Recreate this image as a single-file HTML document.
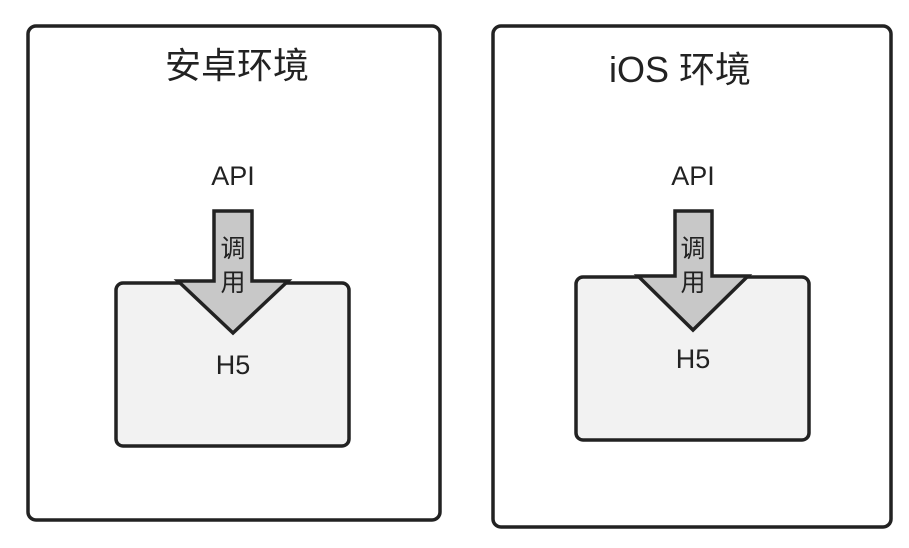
<!DOCTYPE html>
<html><head><meta charset="utf-8"><style>
html,body{margin:0;padding:0;background:#fff;width:909px;height:548px;overflow:hidden}
text{font-family:"Liberation Sans","Noto Sans CJK SC",sans-serif;fill:#222}
</style></head><body>
<svg width="909" height="548" xmlns="http://www.w3.org/2000/svg">
<rect x="28" y="26" width="412" height="494" rx="8" fill="#fff" stroke="#222" stroke-width="3.5"/>
<rect x="493" y="26" width="398" height="501" rx="8" fill="#fff" stroke="#222" stroke-width="3.5"/>
<text x="237" y="78" font-size="36" text-anchor="middle">安卓环境</text>
<text x="680" y="82" font-size="36" text-anchor="middle">iOS 环境</text>
<text x="233" y="185" font-size="27" text-anchor="middle">API</text>
<text x="693" y="185" font-size="27" text-anchor="middle">API</text>
<rect x="116" y="283" width="233" height="163" rx="7" fill="#f2f2f2" stroke="#222" stroke-width="3.5"/>
<rect x="576" y="277" width="233" height="163" rx="7" fill="#f2f2f2" stroke="#222" stroke-width="3.5"/>
<path d="M214 211 H252 V281 H288 L233 333 L178 281 H214 Z" fill="#c8c8c8" stroke="#222" stroke-width="3.5" stroke-linejoin="miter"/>
<path d="M675 211 H712 V276 H748 L693 330 L638 276 H675 Z" fill="#c8c8c8" stroke="#222" stroke-width="3.5"/>
<text x="233" y="257" font-size="25" text-anchor="middle" fill="#444">调</text>
<text x="233" y="291" font-size="25" text-anchor="middle" fill="#444">用</text>
<text x="693" y="257" font-size="25" text-anchor="middle" fill="#444">调</text>
<text x="693" y="291" font-size="25" text-anchor="middle" fill="#444">用</text>
<text x="233" y="374" font-size="27" text-anchor="middle" fill="#333">H5</text>
<text x="693" y="368" font-size="27" text-anchor="middle" fill="#333">H5</text>
</svg>
</body></html>
